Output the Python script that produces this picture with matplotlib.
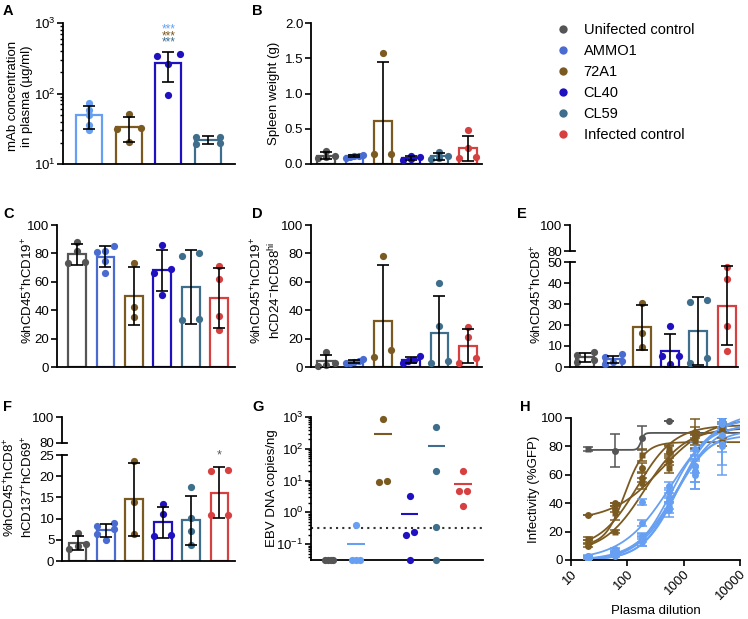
import numpy as np
import matplotlib
matplotlib.use("Agg")
import matplotlib.pyplot as plt
from matplotlib.lines import Line2D
from matplotlib.ticker import LogLocator, NullFormatter, NullLocator, FixedLocator

plt.rcParams['font.family'] = ['Liberation Sans', 'DejaVu Sans']
plt.rcParams['mathtext.fontset'] = 'custom'
plt.rcParams['mathtext.rm'] = 'Liberation Sans'
plt.rcParams['mathtext.it'] = 'Liberation Sans:italic'
plt.rcParams['mathtext.bf'] = 'Liberation Sans:bold'
plt.rcParams['font.size'] = 9.5

# ---- data ----
groups = ['Unifected control', 'AMMO1', '72A1', 'CL40', 'CL59', 'Infected control']
colors = ['#555555', '#4a6bd0', '#7b5a22', '#1f10c0', '#3e6e8c', '#d64040']
light_blue = '#67a0f2'

# A: mAb concentration in plasma (ug/ml) - AMMO1, 72A1, CL40, CL59
mab_ammo1 = [74, 58, 49, 36, 30]
mab_72a1 = [52, 32, 31.5, 20.3]
mab_cl40 = [365, 341, 265, 96]
mab_cl59 = [24.5, 24, 19.5, 20]

# B: spleen weight (g)
spleen = [[0.19, 0.11, 0.10, 0.08], [0.13, 0.12, 0.10, 0.09, 0.12], [1.57, 0.137, 0.14],
          [0.12, 0.10, 0.07, 0.06], [0.17, 0.11, 0.08, 0.07], [0.48, 0.22, 0.10, 0.085]]
# C: %hCD45+hCD19+
cd19 = [[88, 82, 74, 73], [82, 81, 85, 75, 66], [73, 42, 35],
        [86, 69, 66, 51], [80, 78, 34, 33], [71, 62, 36, 26]]
# D: %hCD45+hCD19+ hCD24-hCD38hi
cd38 = [[10.5, 2.5, 1.5, 1], [5.5, 4.5, 3.5, 2.5, 3], [78, 7, 12],
        [8, 5, 4, 3], [59, 29, 3, 4], [28, 21, 6, 3]]
# E: %hCD45+hCD8+
cd8 = [[7, 5.5, 3.5, 2.5], [6, 5, 3, 1.5, 2.5], [30.6, 16.4, 9.6],
       [19.4, 5.3, 5.1, 1.3], [31.8, 30.9, 4.5, 2.1], [47.6, 41.7, 19.6, 7.5]]
# F: %hCD45+hCD8+ hCD137+hCD69+
cd137 = [[6.7, 4.0, 3.5, 2.8], [9.0, 8.3, 7.5, 6.3, 5.0], [23.5, 14, 6.3],
         [13.4, 11.1, 6.2, 5.9], [17.4, 10.1, 7.1, 3.8], [21.4, 21.3, 10.9, 10.9]]
# G: EBV DNA copies/ng (0 = undetected)
ebv = [[0, 0, 0, 0], [0.4, 0, 0, 0], [845, 9.1, 9.8],
       [3.2, 0.244, 0.196, 0], [485, 19.6, 0.334, 0], [19.6, 4.73, 4.73, 1.6]]
ebv_lod = 0.31

# H: infectivity (%GFP) vs plasma dilution
dilutions = [20, 60, 180, 540, 1620, 4860]
gray_pts = [78, 77, 86, 98, 89, 92]
gray_err = [1.5, 11.7, 8.5, 0, 1, 1]
gray_fit = (77.5, 89.5, 175, 15)
brown_pts = [[31.5, 40, 58, 70, 88, 95], [13, 33, 74, 78, 86, 83],
             [10, 36, 65, 76, 90, 99], [15, 20, 54, 65, 84, 92]]
brown_err = [[0, 0, 3, 3, 2, 1], [1, 5, 4, 3, 8, 3], [1, 2, 3, 4, 9, 2], [1, 1, 4, 4, 5, 2]]
brown_fit = [(28, 100, 400, 1.0), (10, 83, 90, 2.5), (8, 95, 150, 1.3), (5, 93, 200, 1.2)]
blue_pts = [[2.5, 6.5, 41, 52, 78, 97], [1, 3, 13, 37, 66, 96], [1.5, 4, 15, 40, 63, 82],
            [2, 5, 17, 44, 60, 88], [1, 4.5, 14, 35, 62, 80], [3, 7.5, 26, 48, 66, 99]]
blue_err = [[0.5, 1, 2, 3, 5, 3], [0.5, 1, 3, 4, 11, 20], [0.5, 1, 2, 4, 8, 15],
            [0.5, 1, 2, 3, 10, 5], [0.5, 1, 4, 5, 12, 20], [0.5, 1, 2, 3, 5, 3]]
blue_fit = [(0, 105, 600, 1.0), (0, 100, 800, 1.4), (0, 92, 700, 1.3),
            (0, 95, 600, 1.4), (0, 88, 650, 1.5), (0, 98, 750, 1.2)]

# ---- layout ----
W, H = 748, 619
fig = plt.figure(figsize=(W / 100, H / 100), dpi=100)


def px_axes(l, t, r, b):
    return fig.add_axes([l / W, 1 - b / H, (r - l) / W, (b - t) / H])


def style(ax, xaxis=True):
    for s in ['top', 'right']:
        ax.spines[s].set_visible(False)
    for s in ['left', 'bottom']:
        ax.spines[s].set_linewidth(1.3)
    ax.tick_params(direction='out', length=4, width=1.2, labelsize=9.5, pad=1.5)
    if not xaxis:
        ax.set_xticks([])


def swarm(vals, tol, step, half_max):
    # spread points with nearly equal values sideways
    vals = np.asarray(vals, float)
    order = np.argsort(vals)
    offs = np.zeros(len(vals))
    clusters, cur = [], [order[0]]
    for idx in order[1:]:
        if vals[idx] - vals[cur[0]] <= tol:
            cur.append(idx)
        else:
            clusters.append(cur)
            cur = [idx]
    clusters.append(cur)
    for c in clusters:
        k = len(c)
        if k > 1:
            half = min(step * (k - 1) / 2, half_max)
            offs[c] = np.linspace(-half, half, k)
    return offs


def bars(ax, data, cols, width, tol, log=False):
    for i, (vals, c) in enumerate(zip(data, cols)):
        v = np.asarray(vals, float)
        m, sd = v.mean(), v.std(ddof=1)
        ax.bar(i, m, width=width, facecolor='white', edgecolor=c, linewidth=1.6, zorder=2)
        offs = swarm(np.log10(v) if log else v, tol, 0.6, 0.3)
        ax.plot(i + offs, v, 'o', color=c, ms=5.2, mec='none', zorder=3, clip_on=False)
        ax.errorbar(i, m, yerr=sd, fmt='none', ecolor='black', elinewidth=1.2,
                    capsize=4.5, capthick=1.2, zorder=4)


def ylab(x, y, text):
    fig.text(x / W, 1 - y / H, text, rotation=90, ha='center', va='center',
             multialignment='center', fontsize=9.5)


def panel_label(x, y, s):
    fig.text(x / W, 1 - y / H, s, fontsize=10.5, fontweight='bold', ha='left', va='top')


# A
axA = px_axes(63, 23, 235, 164)
style(axA, xaxis=False)
axA.set_yscale('log')
bars(axA, [mab_ammo1, mab_72a1, mab_cl40, mab_cl59],
     [light_blue, colors[2], colors[3], colors[4]], 0.66, 0.07, log=True)
axA.set_ylim(10, 1000)
axA.set_xlim(-0.66, 3.68)
axA.yaxis.set_major_locator(LogLocator(base=10, numticks=5))
axA.yaxis.set_minor_locator(LogLocator(base=10, subs=np.arange(2, 10), numticks=20))
axA.yaxis.set_minor_formatter(NullFormatter())
axA.tick_params(which='minor', length=2.5, width=1)
for yy, c in zip([810, 655, 530], [light_blue, colors[2], colors[4]]):
    axA.text(2, yy, '***', color=c, ha='center', va='center', fontsize=8.5)
ylab(20, 96, 'mAb concentration\nin plasma (µg/ml)')
panel_label(3, 4, 'A')

# B
axB = px_axes(311, 23, 482, 164)
style(axB, xaxis=False)
bars(axB, spleen, colors, 0.625, 0.05)
axB.set_ylim(0, 2.0)
axB.set_xlim(-0.53, 5.5)
axB.set_yticks([0, 0.5, 1.0, 1.5, 2.0])
axB.set_yticklabels(['0.0', '0.5', '1.0', '1.5', '2.0'])
ylab(274, 93, 'Spleen weight (g)')
panel_label(252, 4, 'B')

# legend
handles = [Line2D([], [], marker='o', ls='none', color=c, ms=6, mec='none') for c in colors]
fig.legend(handles, groups, loc='upper left', bbox_to_anchor=(556 / W, 1 - 23 / H),
           frameon=False, fontsize=10.5, handlelength=1.0, handletextpad=0.9,
           labelspacing=0.48, borderaxespad=0, borderpad=0)

# C
axC = px_axes(57, 225, 235, 367)
style(axC, xaxis=False)
bars(axC, cd19, colors, 0.625, 5)
axC.set_ylim(0, 100)
axC.set_xlim(-0.70, 5.55)
axC.set_yticks([0, 20, 40, 60, 80, 100])
ylab(27.5, 290, '%hCD45$^{+}$hCD19$^{+}$')
panel_label(3, 207, 'C')

# D
axD = px_axes(311, 225, 482, 367)
style(axD, xaxis=False)
bars(axD, cd38, colors, 0.625, 5)
axD.set_ylim(0, 100)
axD.set_xlim(-0.53, 5.5)
axD.set_yticks([0, 20, 40, 60, 80, 100])
ylab(266, 290, '%hCD45$^{+}$hCD19$^{+}$\nhCD24$^{-}$hCD38$^{\\mathrm{hi}}$')
panel_label(252, 207, 'D')


def broken(l, r, t_top, b_top, t_bot, b_bot, data, top_lim, bot_lim, bot_ticks, xlim):
    axt = px_axes(l, t_top, r, b_top)
    axb = px_axes(l, t_bot, r, b_bot)
    style(axb, xaxis=False)
    style(axt, xaxis=False)
    axt.spines['bottom'].set_visible(False)
    axt.set_ylim(*top_lim)
    axt.set_yticks(list(top_lim))
    axt.set_xlim(*xlim)
    bars(axb, data, colors, 0.625, (bot_lim[1] - bot_lim[0]) * 0.05)
    axb.set_ylim(*bot_lim)
    axb.set_yticks(bot_ticks)
    axb.set_xlim(*xlim)
    frac_t = 5 / (r - l)
    axt.plot([0, frac_t], [top_lim[0], top_lim[0]], transform=axt.get_yaxis_transform(),
             color='black', lw=1.3, clip_on=False)
    axb.plot([0, frac_t], [bot_lim[1], bot_lim[1]], transform=axb.get_yaxis_transform(),
             color='black', lw=1.3, clip_on=False)
    return axt, axb


# E
axEt, axE = broken(570, 738, 225, 251, 262, 367, cd8, (80, 100), (0, 50),
                   [0, 10, 20, 30, 40, 50], (-0.53, 5.4))
ylab(537, 294, '%hCD45$^{+}$hCD8$^{+}$')
panel_label(517, 207, 'E')

# F
axFt, axF = broken(62, 235, 417, 443, 455, 561, cd137, (80, 100), (0, 25),
                   [0, 5, 10, 15, 20, 25], (-0.55, 5.55))
axF.text(5, 24.8, '*', color='#555555', ha='center', va='center', fontsize=9, clip_on=False)
ylab(19, 487, '%hCD45$^{+}$hCD8$^{+}$\nhCD137$^{+}$hCD69$^{+}$')
panel_label(3, 400, 'F')

# G
axG = px_axes(311, 417, 483, 560)
style(axG, xaxis=False)
axG.set_yscale('log')
g_floor = 10 ** -1.5
axG.set_ylim(g_floor, 1000)
axG.set_xlim(-0.68, 5.74)
axG.axhline(ebv_lod, color='#333333', ls=(0, (1, 2)), lw=1.5, zorder=1)
for i, (vals, c) in enumerate(zip(ebv, colors)):
    c = light_blue if i == 1 else c
    v = np.asarray(vals, float)
    shown = np.where(v > 0, v, g_floor)
    offs = swarm(np.log10(shown), 0.25, 0.3, 0.15)
    axG.plot(i + offs, shown, 'o', color=c, ms=5.2, mec='none', zorder=3, clip_on=False)
    m = v.mean()
    if m > 0:
        axG.hlines(m, i - 0.33, i + 0.33, color=c, lw=1.5, zorder=2)
axG.yaxis.set_major_locator(FixedLocator([0.1, 1, 10, 100, 1000]))
axG.yaxis.set_minor_locator(LogLocator(base=10, subs=np.arange(2, 10), numticks=20))
axG.yaxis.set_minor_formatter(NullFormatter())
axG.tick_params(which='minor', length=2.5, width=1)
ylab(272, 488, 'EBV DNA copies/ng')
panel_label(252, 400, 'G')

# H
axH = px_axes(571, 418, 740, 560)
style(axH)
axH.set_xscale('log')
xs = np.logspace(np.log10(dilutions[0]), 4, 300)


def fit_curve(p):
    bot, top, ec50, hill = p
    return bot + (top - bot) / (1 + (ec50 / xs) ** hill)


gray_marks = ['s', 'o', 'o', 'o', 's', 's']
axH.plot(xs, fit_curve(gray_fit), color='#555555', lw=1.3, zorder=2)
axH.errorbar(dilutions, gray_pts, yerr=gray_err, fmt='none', ecolor='#555555',
             elinewidth=1.1, capsize=3.5, capthick=1.1, zorder=2)
for xd, yv, mk in zip(dilutions, gray_pts, gray_marks):
    axH.plot(xd, yv, mk, color='#555555', ms=5, mec='none', zorder=3)
for k, (pts, err, p) in enumerate(zip(brown_pts, brown_err, brown_fit)):
    axH.plot(xs, fit_curve(p), color=colors[2], lw=1.3, zorder=2)
    axH.errorbar(dilutions, pts, yerr=err, fmt='s' if k % 2 else 'o', color=colors[2],
                 ms=5, mec='none', elinewidth=1.1, capsize=3.5, capthick=1.1, zorder=3)
for k, (pts, err, p) in enumerate(zip(blue_pts, blue_err, blue_fit)):
    axH.plot(xs, fit_curve(p), color=light_blue, lw=1.3, zorder=2)
    axH.errorbar(dilutions, pts, yerr=err, fmt='o', color=light_blue,
                 ms=5, mec='none', elinewidth=1.1, capsize=3.5, capthick=1.1, zorder=3)
axH.set_xlim(10, 10000)
axH.set_ylim(0, 100)
axH.set_yticks([0, 20, 40, 60, 80, 100])
axH.xaxis.set_major_locator(FixedLocator([10, 100, 1000, 10000]))
axH.xaxis.set_minor_locator(NullLocator())
axH.set_xticklabels(['10', '100', '1000', '10000'], rotation=45, ha='right',
                    rotation_mode='anchor')
axH.set_xlabel('Plasma dilution', fontsize=9.5, labelpad=2)
ylab(534, 489, 'Infectivity (%GFP)')
panel_label(520, 400, 'H')

fig.savefig('out.png', dpi=100)
